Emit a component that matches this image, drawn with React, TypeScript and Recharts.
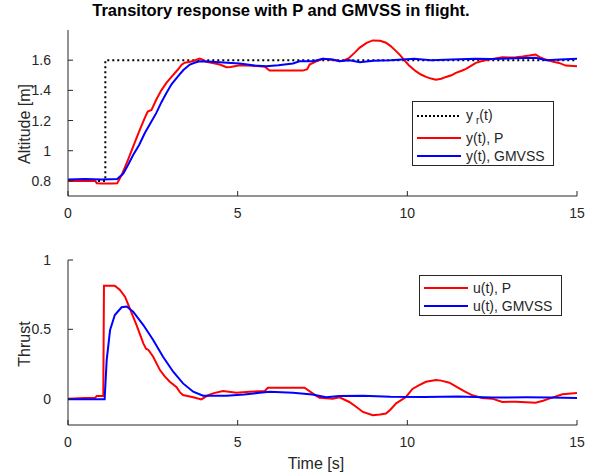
import React from "react";
import { LineChart, Line, XAxis, YAxis } from "recharts";

const FONT = '"Liberation Sans", Arial, Helvetica, sans-serif';
const INK = "#262626";

const xTicks = [0, 5, 10, 15];
const altTicks = [0.8, 1, 1.2, 1.4, 1.6];
const thrustTicks = [0, 0.5, 1];

// reference altitude y_r(t)
const refT = [0, 1.1, 1.1, 15];
const refAlt = [0.8, 0.8, 1.6, 1.6];

// altitude with P controller
const altPT = [0, 0.5, 0.8, 0.85, 1.0, 1.3, 1.45, 1.58, 1.75, 1.92, 2.1, 2.26, 2.35, 2.46, 2.6, 2.75, 2.9, 3.05, 3.24, 3.35, 3.44, 3.6, 3.75, 3.88, 3.95, 4.07, 4.3, 4.47, 4.6, 4.67, 4.8, 5.06, 5.3, 5.65, 5.8, 5.94, 6.5, 6.92, 7.05, 7.12, 7.3, 7.51, 7.7, 7.9, 8.0, 8.15, 8.29, 8.45, 8.59, 8.8, 8.98, 9.2, 9.37, 9.5, 9.67, 9.8, 9.91, 10.05, 10.25, 10.4, 10.55, 10.7, 10.84, 11.0, 11.14, 11.3, 11.43, 11.6, 11.73, 11.9, 12.02, 12.2, 12.41, 12.6, 12.8, 13.0, 13.2, 13.4, 13.59, 13.78, 13.9, 14.08, 14.3, 14.47, 14.67, 15];
const altPV = [0.8, 0.8, 0.8, 0.785, 0.783, 0.783, 0.785, 0.838, 0.93, 1.027, 1.13, 1.216, 1.26, 1.27, 1.338, 1.4, 1.449, 1.49, 1.538, 1.57, 1.583, 1.59, 1.6, 1.611, 1.605, 1.589, 1.58, 1.571, 1.56, 1.553, 1.555, 1.567, 1.565, 1.56, 1.556, 1.531, 1.531, 1.531, 1.54, 1.571, 1.59, 1.609, 1.605, 1.6, 1.593, 1.6, 1.616, 1.65, 1.682, 1.715, 1.731, 1.728, 1.716, 1.695, 1.66, 1.63, 1.6, 1.565, 1.527, 1.505, 1.489, 1.478, 1.471, 1.477, 1.489, 1.5, 1.516, 1.53, 1.542, 1.565, 1.582, 1.595, 1.604, 1.612, 1.62, 1.617, 1.62, 1.625, 1.631, 1.638, 1.62, 1.604, 1.59, 1.582, 1.564, 1.56];

// altitude with GMVSS controller
const altGT = [0, 0.5, 1.0, 1.45, 1.63, 1.78, 1.92, 2.1, 2.26, 2.45, 2.6, 2.75, 2.9, 3.05, 3.24, 3.4, 3.59, 3.75, 3.88, 4.1, 4.47, 4.8, 5.06, 5.5, 5.84, 6.2, 6.63, 6.82, 7.22, 7.51, 7.8, 8.0, 8.3, 8.6, 9.0, 9.5, 10.2, 10.7, 11.3, 12.0, 12.5, 13.2, 13.78, 14.1, 14.5, 15];
const altGV = [0.81, 0.812, 0.81, 0.812, 0.849, 0.91, 0.971, 1.04, 1.116, 1.19, 1.249, 1.32, 1.383, 1.44, 1.493, 1.535, 1.571, 1.585, 1.593, 1.592, 1.587, 1.582, 1.578, 1.565, 1.56, 1.566, 1.578, 1.593, 1.593, 1.609, 1.605, 1.593, 1.6, 1.587, 1.597, 1.6, 1.609, 1.6, 1.605, 1.61, 1.608, 1.612, 1.616, 1.6, 1.605, 1.609];

// thrust with P controller
const uPT = [0, 0.5, 0.8, 0.85, 1.04, 1.06, 1.38, 1.53, 1.68, 1.82, 2.02, 2.22, 2.3, 2.37, 2.51, 2.71, 2.85, 3.0, 3.2, 3.3, 3.39, 3.69, 3.93, 4.13, 4.3, 4.57, 4.96, 5.35, 5.8, 5.89, 6.97, 7.22, 7.41, 7.8, 8.0, 8.29, 8.5, 8.69, 8.98, 9.2, 9.37, 9.5, 9.67, 9.96, 10.15, 10.35, 10.55, 10.84, 11.0, 11.24, 11.53, 11.7, 11.92, 12.2, 12.5, 12.8, 13.2, 13.5, 13.78, 14.0, 14.18, 14.57, 15];
const uPV = [0, 0.005, 0.007, 0.02, 0.02, 0.815, 0.815, 0.784, 0.735, 0.651, 0.531, 0.399, 0.36, 0.351, 0.302, 0.206, 0.16, 0.122, 0.082, 0.045, 0.026, 0.01, -0.005, 0.026, 0.04, 0.055, 0.043, 0.05, 0.055, 0.079, 0.079, 0.036, 0.007, 0, 0.01, -0.024, -0.06, -0.096, -0.12, -0.115, -0.107, -0.08, -0.034, 0.012, 0.07, 0.097, 0.122, 0.135, 0.13, 0.115, 0.074, 0.05, 0.024, 0.005, 0, -0.024, -0.022, -0.026, -0.03, -0.015, 0, 0.032, 0.04];

// thrust with GMVSS controller
const uGT = [0, 1.08, 1.14, 1.24, 1.38, 1.58, 1.73, 1.92, 2.22, 2.51, 2.8, 3.1, 3.39, 3.69, 3.98, 4.67, 5.2, 5.65, 5.94, 6.63, 7.2, 7.61, 8.0, 8.69, 9.5, 10.5, 11.5, 12.5, 13.5, 14.2, 15];
const uGV = [-0.005, -0.005, 0.278, 0.495, 0.603, 0.659, 0.664, 0.627, 0.531, 0.423, 0.302, 0.194, 0.11, 0.05, 0.021, 0.021, 0.03, 0.043, 0.05, 0.043, 0.03, 0.01, 0.02, 0.021, 0.014, 0.012, 0.015, 0.008, 0.01, 0.008, 0.004];

const zip = (t: number[], v: number[]) => t.map((x, i) => ({ t: x, v: v[i] }));

type Series = { name: string; data: { t: number; v: number }[]; color: string; dash?: string };

const topSeries: Series[] = [
  { name: "ref", data: zip(refT, refAlt), color: "#000000", dash: "2 3" },
  { name: "P", data: zip(altPT, altPV), color: "#ff0000" },
  { name: "GMVSS", data: zip(altGT, altGV), color: "#0000ff" },
];

const bottomSeries: Series[] = [
  { name: "P", data: zip(uPT, uPV), color: "#ff0000" },
  { name: "GMVSS", data: zip(uGT, uGV), color: "#0000ff" },
];

const tickStyle = { fill: INK, fontSize: 14, fontFamily: FONT };
const blank = () => "";

function Panel({ top, height, xHeight, yDomain, yTicks, series }: {
  top: number;
  height: number;
  xHeight: number;
  yDomain: [number, number];
  yTicks: number[];
  series: Series[];
}) {
  return (
    <div style={{ position: "absolute", left: 0, top }}>
      <LineChart width={599} height={height} margin={{ top: 30, right: 22, bottom: 0, left: 0 }}>
        <XAxis xAxisId="b" type="number" dataKey="t" domain={[0, 15]} ticks={xTicks} orientation="bottom"
          height={xHeight} tickSize={-5} tickMargin={17} stroke={INK} tick={tickStyle} allowDataOverflow />
        <XAxis xAxisId="t" type="number" dataKey="t" domain={[0, 15]} ticks={xTicks} orientation="top"
          height={0} tickSize={-5} tickFormatter={blank} stroke={INK} allowDataOverflow />
        <YAxis yAxisId="l" type="number" domain={yDomain} ticks={yTicks} width={68} tickSize={-5}
          tickMargin={22} stroke={INK} tick={tickStyle} allowDataOverflow />
        <YAxis yAxisId="r" type="number" orientation="right" domain={yDomain} ticks={yTicks} width={0}
          tickSize={-5} tickFormatter={blank} stroke={INK} allowDataOverflow />
        {series.map((s) => (
          <Line key={s.name} xAxisId="b" yAxisId="l" data={s.data} dataKey="v" type="linear"
            stroke={s.color} strokeWidth={2} strokeDasharray={s.dash} dot={false} activeDot={false}
            isAnimationActive={false} />
        ))}
      </LineChart>
    </div>
  );
}

function LegendBox({ left, top, width, height, rows }: {
  left: number;
  top: number;
  width: number;
  height: number;
  rows: { label: React.ReactNode; color: string; dash?: string; y: number }[];
}) {
  return (
    <div style={{ position: "absolute", left, top, width, height, border: `1px solid ${INK}`, background: "#fff", boxSizing: "border-box" }}>
      {rows.map((r, i) => (
        <div key={i} style={{ position: "absolute", left: 4, top: r.y - 10, height: 20, display: "flex", alignItems: "center", whiteSpace: "nowrap" }}>
          <svg width={44} height={4} style={{ display: "block" }}>
            <line x1={0} y1={2} x2={44} y2={2} stroke={r.color} strokeWidth={2} strokeDasharray={r.dash} />
          </svg>
          <span style={{ marginLeft: 5, fontFamily: FONT, fontSize: 14, color: INK }}>{r.label}</span>
        </div>
      ))}
    </div>
  );
}

export default function App() {
  return (
    <div style={{ position: "absolute", left: 0, top: 0, width: 599, height: 476, background: "#fff", overflow: "hidden" }}>
      <Panel top={0} height={230} xHeight={34} yDomain={[0.7, 1.8]} yTicks={altTicks} series={topSeries} />
      <Panel top={230} height={246} xHeight={51} yDomain={[-0.19, 1]} yTicks={thrustTicks} series={bottomSeries} />

      <svg width={599} height={476} style={{ position: "absolute", left: 0, top: 0, pointerEvents: "none" }}>
        <text x={281} y={16} textAnchor="middle" fontFamily={FONT} fontSize={16.5} fontWeight="bold" fill="#000">
          Transitory response with P and GMVSS in flight.
        </text>
        <text x={30} y={124} transform="rotate(-90 30 124)" textAnchor="middle" fontFamily={FONT} fontSize={16} fill={INK}>
          Altitude [m]
        </text>
        <text x={30} y={344} transform="rotate(-90 30 344)" textAnchor="middle" fontFamily={FONT} fontSize={16} fill={INK}>
          Thrust
        </text>
        <text x={316} y={469} textAnchor="middle" fontFamily={FONT} fontSize={16} fill={INK}>
          Time [s]
        </text>
      </svg>

      <LegendBox left={412} top={101} width={142} height={65} rows={[
        { label: <span>y<sub style={{ fontSize: 10, verticalAlign: "-4px", marginLeft: 3 }}>r</sub>(t)</span>, color: "#000", dash: "2 2", y: 14 },
        { label: "y(t), P", color: "#ff0000", y: 36 },
        { label: "y(t), GMVSS", color: "#0000ff", y: 54 },
      ]} />
      <LegendBox left={419} top={275} width={143} height={41} rows={[
        { label: "u(t), P", color: "#ff0000", y: 12 },
        { label: "u(t), GMVSS", color: "#0000ff", y: 30 },
      ]} />
    </div>
  );
}
